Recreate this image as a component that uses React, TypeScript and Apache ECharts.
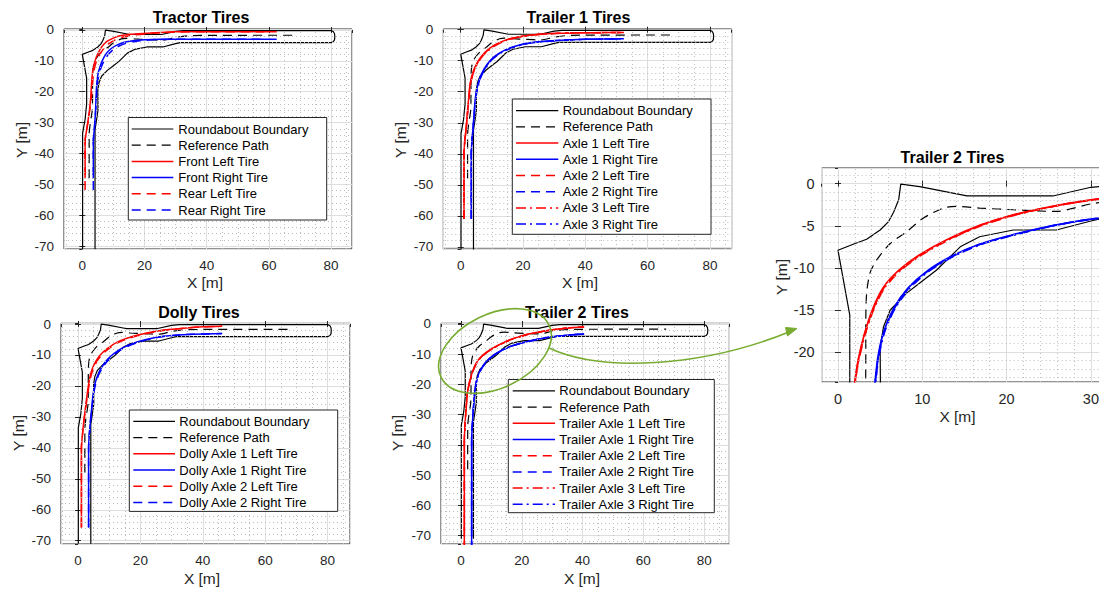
import { useEffect, useRef } from 'react';
import * as echarts from 'echarts';

type Pt = [number, number];

// ---------------- data (metres) ----------------
const roundaboutBoundary: Pt[] = [
  [0.1, -71], [0.1, -33.5], [0.9, -29], [1.4, -24], [1.4, -15.6], [0.0, -7.9], [1.8, -7.2], [3.4, -6.6],
  [5.0, -5.5], [6.0, -4.5], [6.6, -3.4], [7.2, -1.9], [7.45, -0.05], [9.7, -0.35], [15.3, -1.46], [25.5, -1.46],
  [30, -0.43], [32.5, -0.2], [80.0, -0.2], [80.7, -0.5], [81.1, -1.2], [81.2, -2.1], [81.1, -3.2], [80.7, -3.8],
  [80.0, -4.1], [31.5, -4.1], [30, -4.43], [25.9, -5.5], [20.8, -5.5], [16.8, -6.3], [14.5, -7.5], [11.7, -10.25],
  [9.7, -11.8], [8.15, -13], [6.2, -15], [5.4, -17], [5.0, -19.4], [5.05, -26], [4.1, -32.4], [4.1, -71],
];

const referencePath: Pt[] = [
  [2.2, -48], [2.2, -34], [2.6, -30], [3.2, -26], [3.3, -20], [3.3, -16.2], [3.4, -13], [3.8, -10.6], [4.6, -9.05],
  [6.2, -7.1], [8.15, -5.7], [10.1, -4.1], [12.5, -2.9], [14.1, -2.7], [16.8, -2.9], [20.8, -3.1], [25.9, -3.3],
  [30, -2.4], [34, -1.9], [40, -1.75], [67.5, -1.7],
];

const tractorFrontLeft: Pt[] = [
  [0.9, -48], [0.9, -36], [1.3, -33], [1.9, -29], [2.3, -26], [2.7, -22], [3.0, -17], [3.4, -13], [4.1, -10],
  [5.1, -7.5], [6.3, -5.4], [7.8, -3.8], [9.8, -2.7], [12.1, -1.9], [15.5, -1.4], [19.6, -1.1], [25, -0.8],
  [30.4, -0.6], [40, -0.55], [62.5, -0.55],
];
const tractorFrontRight: Pt[] = [
  [3.55, -48], [3.55, -36], [3.8, -33], [4.1, -29], [4.3, -25], [4.6, -18.3], [5.0, -14.5], [5.7, -11.9],
  [6.6, -9.6], [7.8, -7.5], [9.3, -6.0], [11.1, -4.9], [13.5, -4.0], [16.4, -3.5], [20, -3.2], [25, -3.0], [62.5, -3.0],
];
const tractorRearLeft: Pt[] = [
  [0.9, -51.8], [0.9, -36], [1.3, -33], [2.0, -29], [2.4, -26], [2.9, -22], [3.3, -17], [3.8, -13], [4.6, -10],
  [5.7, -7.8], [7.0, -5.9], [8.6, -4.4], [10.6, -3.2], [13, -2.3], [16.3, -1.7], [20.4, -1.25], [25.5, -0.9],
  [31, -0.65], [40, -0.55], [58.5, -0.55],
];
const tractorRearRight: Pt[] = [
  [3.55, -51.8], [3.55, -36], [3.8, -33], [4.1, -29], [4.4, -25], [4.8, -18.3], [5.3, -14.6], [6.1, -12.0],
  [7.1, -9.8], [8.4, -7.9], [9.9, -6.4], [11.8, -5.2], [14.2, -4.3], [17.1, -3.7], [20.7, -3.3], [25.5, -3.05], [58.5, -3.0],
];

const trailer1Axle1Left: Pt[] = [
  [1.05, -61], [1.05, -40], [1.3, -36], [1.8, -31], [2.2, -26], [2.6, -21.5], [3.0, -17.5], [3.9, -13.7], [5.1, -11],
  [6.5, -8.8], [8.3, -6.8], [10.8, -5], [13.7, -3.6], [17.5, -2.5], [22.2, -1.75], [27, -1.35], [33, -1.1], [42, -0.95], [52.4, -0.9],
];
const trailer1Axle1Right: Pt[] = [
  [3.4, -61], [3.4, -40], [3.6, -36], [4.0, -31], [4.3, -27], [4.6, -22.9], [5.2, -19], [6.2, -15.4], [7.6, -12.5],
  [9.4, -10], [11.4, -8.2], [13.7, -6.8], [16.7, -5.6], [20.1, -4.6], [25, -3.9], [30.8, -3.45], [40, -3.1], [52.4, -2.95],
];
const trailer1Axle2Left: Pt[] = [
  [1.05, -61], [1.05, -40], [1.3, -36], [1.83, -31], [2.25, -26], [2.66, -21.5], [3.08, -17.55], [4.0, -13.75], [5.2, -11.05],
  [6.62, -8.85], [8.45, -6.87], [10.95, -5.07], [13.85, -3.65], [17.65, -2.55], [22.35, -1.78], [27.15, -1.37], [33.15, -1.11], [42, -0.96], [52.4, -0.9],
];
const trailer1Axle2Right: Pt[] = [
  [3.4, -61], [3.4, -40], [3.6, -36], [4.03, -31], [4.35, -27], [4.67, -22.95], [5.28, -19.05], [6.3, -15.45], [7.72, -12.55],
  [9.52, -10.05], [11.55, -8.25], [13.85, -6.85], [16.85, -5.65], [20.25, -4.65], [25.15, -3.93], [30.9, -3.47], [40, -3.1], [52.4, -2.95],
];
const trailer1Axle3Left: Pt[] = [
  [1.05, -61], [1.05, -40], [1.3, -36], [1.86, -31], [2.3, -26], [2.72, -21.5], [3.16, -17.6], [4.1, -13.8], [5.3, -11.1],
  [6.74, -8.9], [8.6, -6.94], [11.1, -5.14], [14, -3.7], [17.8, -2.6], [22.5, -1.81], [27.3, -1.39], [33.3, -1.12], [42, -0.97], [52.4, -0.9],
];
const trailer1Axle3Right: Pt[] = [
  [3.4, -61], [3.4, -40], [3.6, -36], [4.06, -31], [4.4, -27], [4.74, -23.0], [5.36, -19.1], [6.4, -15.5], [7.84, -12.6],
  [9.64, -10.1], [11.7, -8.3], [14, -6.9], [17, -5.7], [20.4, -4.7], [25.3, -3.96], [31, -3.48], [40, -3.11], [52.4, -2.95],
];

const dollyAxle1Left: Pt[] = [
  [1.1, -65.7], [1.1, -40], [1.4, -36], [1.9, -31], [2.4, -27], [2.9, -23], [3.4, -19.5], [4.1, -16], [5.1, -13.2],
  [6.3, -11.1], [7.8, -9.3], [9.6, -7.8], [12.3, -6], [15.7, -4.6], [19.6, -3.5], [24.2, -2.5], [29, -1.8], [34.8, -1.25], [40, -0.9], [46.2, -0.7],
];
const dollyAxle1Right: Pt[] = [
  [3.4, -65.7], [3.4, -40], [3.6, -36], [4.0, -31], [4.4, -27], [4.8, -23], [5.4, -19.5], [6.4, -16.3], [7.7, -13.8],
  [9.4, -11.5], [11.4, -9.6], [14.3, -7.7], [17.8, -6.2], [21.8, -5.0], [26.3, -4.1], [31, -3.6], [36.9, -3.3], [46.2, -3.1],
];
const dollyAxle2Left: Pt[] = [
  [1.1, -65.7], [1.1, -40], [1.4, -36], [1.95, -31], [2.5, -27], [3.05, -23], [3.6, -19.6], [4.35, -16.1], [5.4, -13.3],
  [6.65, -11.2], [8.2, -9.4], [10, -7.9], [12.7, -6.1], [16.1, -4.7], [20, -3.6], [24.6, -2.55], [29.4, -1.83], [35, -1.27], [40, -0.92], [46.2, -0.7],
];
const dollyAxle2Right: Pt[] = [
  [3.4, -65.7], [3.4, -40], [3.6, -36], [4.05, -31], [4.5, -27], [4.95, -23], [5.6, -19.6], [6.65, -16.4], [8, -13.9],
  [9.75, -11.6], [11.8, -9.7], [14.7, -7.8], [18.2, -6.3], [22.2, -5.05], [26.7, -4.15], [31.3, -3.62], [37, -3.3], [46.2, -3.1],
];

const trailer2Axle1Left: Pt[] = [
  [1.1, -75], [1.1, -38], [1.3, -34], [1.55, -29.5], [1.8, -26], [2.0, -23.5], [2.4, -20.9], [3.15, -17.8], [4.15, -14.8],
  [5.4, -12.3], [7.2, -10.3], [9.6, -8.5], [12.9, -6.65], [16.8, -4.95], [20.8, -3.7], [25.9, -2.6], [30, -1.93], [35, -1.35], [40.5, -1.0],
];
const trailer2Axle1Right: Pt[] = [
  [3.5, -75], [3.5, -38], [3.7, -34], [3.95, -29.5], [4.2, -26], [4.4, -23.5], [4.75, -20.5], [5.45, -17.5], [6.6, -14.8],
  [8.3, -12.4], [10.6, -10.35], [13.4, -8.65], [16.6, -7.25], [20.6, -6.1], [25.6, -4.95], [30, -4.2], [35, -3.7], [40.5, -3.3],
];
const trailer2Axle2Left: Pt[] = [
  [1.1, -75], [1.1, -38], [1.3, -34], [1.57, -29.5], [1.83, -26], [2.03, -23.5], [2.44, -20.9], [3.2, -17.8], [4.21, -14.82],
  [5.47, -12.33], [7.28, -10.33], [9.68, -8.53], [12.98, -6.68], [16.88, -4.97], [20.88, -3.72], [25.95, -2.61], [30.05, -1.94], [35, -1.35], [40.5, -1.0],
];
const trailer2Axle2Right: Pt[] = [
  [3.5, -75], [3.5, -38], [3.7, -34], [3.97, -29.5], [4.23, -26], [4.44, -23.5], [4.8, -20.5], [5.51, -17.5], [6.67, -14.83],
  [8.38, -12.43], [10.68, -10.38], [13.48, -8.68], [16.68, -7.27], [20.68, -6.12], [25.65, -4.96], [30.05, -4.21], [35, -3.7], [40.5, -3.3],
];
const trailer2Axle3Left: Pt[] = [
  [1.1, -75], [1.1, -38], [1.3, -34], [1.59, -29.5], [1.86, -26], [2.06, -23.5], [2.48, -20.9], [3.25, -17.8], [4.27, -14.84],
  [5.54, -12.36], [7.36, -10.36], [9.76, -8.56], [13.06, -6.71], [16.96, -4.99], [20.96, -3.74], [26, -2.62], [30.1, -1.95], [35, -1.36], [40.5, -1.0],
];
const trailer2Axle3Right: Pt[] = [
  [3.5, -75], [3.5, -38], [3.7, -34], [3.99, -29.5], [4.26, -26], [4.48, -23.5], [4.85, -20.5], [5.57, -17.5], [6.74, -14.86],
  [8.46, -12.46], [10.76, -10.41], [13.56, -8.71], [16.76, -7.29], [20.76, -6.14], [25.7, -4.97], [30.1, -4.22], [35, -3.71], [40.5, -3.3],
];

const tractorLegend = ['Roundabout Boundary', 'Reference Path', 'Front Left Tire', 'Front Right Tire', 'Rear Left Tire', 'Rear Right Tire'];
const trailer1Legend = ['Roundabout Boundary', 'Reference Path', 'Axle 1 Left Tire', 'Axle 1 Right Tire', 'Axle 2 Left Tire', 'Axle 2 Right Tire', 'Axle 3 Left Tire', 'Axle 3 Right Tire'];
const dollyLegend = ['Roundabout Boundary', 'Reference Path', 'Dolly Axle 1 Left Tire', 'Dolly Axle 1 Right Tire', 'Dolly Axle 2 Left Tire', 'Dolly Axle 2 Right Tire'];
const trailer2Legend = ['Roundabout Boundary', 'Reference Path', 'Trailer Axle 1 Left Tire', 'Trailer Axle 1 Right Tire', 'Trailer Axle 2 Left Tire', 'Trailer Axle 2 Right Tire', 'Trailer Axle 3 Left Tire', 'Trailer Axle 3 Right Tire'];

const panelTitles = ['Tractor Tires', 'Trailer 1 Tires', 'Dolly Tires', 'Trailer 2 Tires', 'Trailer 2 Tires'];
const xAxisTitle = 'X [m]';
const yAxisTitle = 'Y [m]';

// ---------------- styling ----------------
const FONT = "'Liberation Sans', Arial, Helvetica, sans-serif";
const RED = '#ff0000';
const BLUE = '#0000ff';
const BLACK = '#000000';
const AXC = '#262626';
const DASH = [9, 6];
const DASHDOT = [10, 4, 2, 4];
const GREEN = '#77AC30';

type LineDef = { name: string; data: Pt[]; color: string; dash: number[] | null; width: number; smooth: number };

function buildLines(names: string[], tires: Pt[][], lw: number): LineDef[] {
  const out: LineDef[] = [
    { name: names[0], data: roundaboutBoundary, color: BLACK, dash: null, width: 1.2, smooth: 0 },
    { name: names[1], data: referencePath, color: BLACK, dash: DASH, width: 1.2, smooth: 0.25 },
  ];
  const dashes = [null, null, DASH, DASH, DASHDOT, DASHDOT];
  tires.forEach((d, k) => {
    out.push({ name: names[k + 2], data: d, color: k % 2 === 0 ? RED : BLUE, dash: dashes[k], width: lw, smooth: 0.25 });
  });
  return out;
}

type Legend = { box: [number, number, number, number]; sample: [number, number]; textX: number; row0: number; step: number };
type Panel = {
  title: string; lines: LineDef[]; grid: [number, number, number, number];
  xr: [number, number]; yr: [number, number]; xSplit: number; ySplit: number;
  xMajor: number; yMajor: number; xMinor: number; yMinor: number;
  titleAt: [number, number]; xLabelAt: [number, number]; yLabelAt: [number, number];
  legend: Legend | null; xMargin: number; yMargin: number; tickFont: number;
};

const trailer2Tires = [trailer2Axle1Left, trailer2Axle1Right, trailer2Axle2Left, trailer2Axle2Right, trailer2Axle3Left, trailer2Axle3Right];

const panels: Panel[] = [
  {
    title: panelTitles[0], lines: buildLines(tractorLegend, [tractorFrontLeft, tractorFrontRight, tractorRearLeft, tractorRearRight], 1.5),
    grid: [64, 29, 288, 220], xr: [-5.88, 86.72], yr: [-70.95, 0.32], xSplit: 5, ySplit: 7, xMajor: 20, yMajor: 10, xMinor: 5, yMinor: 2,
    titleAt: [201, 17], xLabelAt: [205, 282], yLabelAt: [21, 140],
    legend: { box: [128.3, 117.5, 198.4, 102.5], sample: [131.7, 173.3], textX: 178.3, row0: 129, step: 16.2 },
    xMargin: 9, yMargin: 10, tickFont: 13.5,
  },
  {
    title: panelTitles[1], lines: buildLines(trailer1Legend, [trailer1Axle1Left, trailer1Axle1Right, trailer1Axle2Left, trailer1Axle2Right, trailer1Axle3Left, trailer1Axle3Right], 1.5),
    grid: [443.3, 29, 288.4, 220], xr: [-5.59, 87.0], yr: [-70.7, 0.23], xSplit: 5, ySplit: 7, xMajor: 20, yMajor: 10, xMinor: 5, yMinor: 2,
    titleAt: [578.5, 17], xLabelAt: [580, 282], yLabelAt: [400, 140],
    legend: { box: [512.3, 99, 198.7, 135.3], sample: [516, 558.3], textX: 562.7, row0: 110.7, step: 16.2 },
    xMargin: 9, yMargin: 10, tickFont: 13.5,
  },
  {
    title: panelTitles[2], lines: buildLines(dollyLegend, [dollyAxle1Left, dollyAxle1Right, dollyAxle2Left, dollyAxle2Right], 1.5),
    grid: [61, 323.3, 289, 220.7], xr: [-5.45, 87.2], yr: [-71.06, 0.23], xSplit: 5, ySplit: 7, xMajor: 20, yMajor: 10, xMinor: 5, yMinor: 2,
    titleAt: [199, 312], xLabelAt: [202, 578], yLabelAt: [18, 433],
    legend: { box: [129.3, 410, 208.4, 101.4], sample: [133.3, 175], textX: 179.3, row0: 421.4, step: 16.2 },
    xMargin: 9, yMargin: 10, tickFont: 13.5,
  },
  {
    title: panelTitles[3], lines: buildLines(trailer2Legend, trailer2Tires, 1.5),
    grid: [441, 323.3, 288.3, 220.7], xr: [-6.58, 88.27], yr: [-72.75, 0.23], xSplit: 5, ySplit: 7, xMajor: 20, yMajor: 10, xMinor: 5, yMinor: 2,
    titleAt: [577, 312], xLabelAt: [582, 578], yLabelAt: [397, 433],
    legend: { box: [508.3, 379.5, 206, 133.2], sample: [512.7, 555], textX: 559.3, row0: 390.9, step: 16.2 },
    xMargin: 9, yMargin: 10, tickFont: 13.5,
  },
  {
    title: panelTitles[4], lines: buildLines(trailer2Legend, trailer2Tires, 1.7),
    grid: [821.7, 168, 313.3, 214], xr: [-1.93, 35.23], yr: [-23.55, 1.86], xSplit: 4, ySplit: 5, xMajor: 10, yMajor: 5, xMinor: 2, yMinor: 1,
    titleAt: [952.5, 157], xLabelAt: [957.5, 416], yLabelAt: [781, 277],
    legend: null,
    xMargin: 9, yMargin: 7, tickFont: 14.5,
  },
];

function minorValues(min: number, max: number, step: number, major: number): number[] {
  const out: number[] = [];
  const start = Math.ceil(min / step);
  const end = Math.floor(max / step);
  for (let k = start; k <= end; k++) {
    const v = Math.round(k * step * 1000) / 1000;
    const r = v / major;
    if (Math.abs(r - Math.round(r)) > 1e-6) out.push(v);
  }
  return out;
}

function buildOption() {
  const grids: any[] = [];
  const xAxes: any[] = [];
  const yAxes: any[] = [];
  const series: any[] = [];
  const graphics: any[] = [];

  panels.forEach((p, i) => {
    const [gl, gt, gw, gh] = p.grid;
    grids.push({
      left: gl, top: gt, width: gw, height: gh, show: true, borderColor: AXC, borderWidth: 1,
      backgroundColor: '#ffffff', containLabel: false, outerBoundsMode: 'none',
    });
    const tick = { show: true, inside: true, length: 3, lineStyle: { color: AXC, width: 1 } };
    const lbl = { fontSize: p.tickFont, color: AXC, fontFamily: FONT, showMinLabel: false, showMaxLabel: false };
    xAxes.push({
      type: 'value', gridIndex: i, position: 'bottom', min: p.xr[0], max: p.xr[1], splitNumber: p.xSplit,
      axisLine: { show: false }, axisTick: tick, axisLabel: { ...lbl, margin: p.xMargin },
      splitLine: { show: true, lineStyle: { color: '#dedede', width: 1 } },
    });
    xAxes.push({
      type: 'value', gridIndex: i, position: 'top', min: p.xr[0], max: p.xr[1], splitNumber: p.xSplit,
      axisLine: { show: false }, axisTick: tick, axisLabel: { show: false }, splitLine: { show: false },
    });
    yAxes.push({
      type: 'value', gridIndex: i, position: 'left', min: p.yr[0], max: p.yr[1], splitNumber: p.ySplit,
      axisLine: { show: false }, axisTick: tick, axisLabel: { ...lbl, margin: p.yMargin },
      splitLine: { show: true, lineStyle: { color: '#dedede', width: 1 } },
    });
    yAxes.push({
      type: 'value', gridIndex: i, position: 'right', min: p.yr[0], max: p.yr[1], splitNumber: p.ySplit,
      axisLine: { show: false }, axisTick: tick, axisLabel: { show: false }, splitLine: { show: false },
    });

    const minors = [
      ...minorValues(p.xr[0], p.xr[1], p.xMinor, p.xMajor).map((v) => ({ xAxis: v })),
      ...minorValues(p.yr[0], p.yr[1], p.yMinor, p.yMajor).map((v) => ({ yAxis: v })),
    ];
    series.push({
      type: 'line', xAxisIndex: 2 * i, yAxisIndex: 2 * i, data: [[p.xr[0], p.yr[0]]], symbol: 'none', showSymbol: false,
      lineStyle: { opacity: 0, width: 0 }, silent: true, z: 1,
      markLine: {
        silent: true, symbol: ['none', 'none'], label: { show: false }, animation: false,
        lineStyle: { type: [1, 3], color: '#bcbcbc', width: 1 }, emphasis: { disabled: true },
        data: minors,
      },
    });

    p.lines.forEach((l) => {
      series.push({
        type: 'line', name: l.name, xAxisIndex: 2 * i, yAxisIndex: 2 * i, data: l.data, symbol: 'none', showSymbol: false,
        smooth: l.smooth, clip: true, silent: true, z: 3,
        lineStyle: { color: l.color, width: l.width, type: l.dash ? l.dash : 'solid' },
        emphasis: { disabled: true },
      });
    });

    graphics.push({
      type: 'text', z: 100, x: p.titleAt[0], y: p.titleAt[1],
      style: { text: p.title, fontSize: 16, fontWeight: 'bold', fontFamily: FONT, fill: '#000', align: 'center', verticalAlign: 'middle' },
    });
    graphics.push({
      type: 'text', z: 100, x: p.xLabelAt[0], y: p.xLabelAt[1],
      style: { text: xAxisTitle, fontSize: 15.5, fontFamily: FONT, fill: AXC, align: 'center', verticalAlign: 'middle' },
    });
    graphics.push({
      type: 'text', z: 100, x: p.yLabelAt[0], y: p.yLabelAt[1], rotation: Math.PI / 2,
      style: { text: yAxisTitle, fontSize: 15.5, fontFamily: FONT, fill: AXC, align: 'center', verticalAlign: 'middle' },
    });

    if (p.legend) {
      const lg = p.legend;
      graphics.push({
        type: 'rect', z: 100, shape: { x: lg.box[0], y: lg.box[1], width: lg.box[2], height: lg.box[3] },
        style: { fill: '#ffffff', stroke: AXC, lineWidth: 1 },
      });
      p.lines.forEach((l, k) => {
        const yy = lg.row0 + k * lg.step;
        graphics.push({
          type: 'line', z: 101, shape: { x1: lg.sample[0], y1: yy, x2: lg.sample[1], y2: yy },
          style: { stroke: l.color, lineWidth: l.width, lineDash: l.dash ? l.dash : null },
        });
        graphics.push({
          type: 'text', z: 101, x: lg.textX, y: yy,
          style: { text: l.name, fontSize: 13, fontFamily: FONT, fill: '#000', align: 'left', verticalAlign: 'middle' },
        });
      });
    }
  });

  // zoom annotation (ellipse + curved arrow)
  graphics.push({
    type: 'ellipse', z: 110, x: 495, y: 351, rotation: 0.45,
    shape: { cx: 0, cy: 0, rx: 60, ry: 37 },
    style: { fill: 'none', stroke: GREEN, lineWidth: 1.6 },
  });
  graphics.push({
    type: 'bezierCurve', z: 110,
    shape: { x1: 549, y1: 348, cpx1: 600, cpy1: 372, cpx2: 700, cpy2: 368, x2: 789, y2: 332 },
    style: { fill: 'none', stroke: GREEN, lineWidth: 1.6 },
  });
  graphics.push({
    type: 'polygon', z: 110,
    shape: { points: [[797, 328.5], [787.5, 336], [785.5, 327.5]] },
    style: { fill: GREEN, stroke: GREEN, lineWidth: 1 },
  });

  return {
    animation: false,
    backgroundColor: '#ffffff',
    grid: grids,
    xAxis: xAxes,
    yAxis: yAxes,
    series,
    graphic: { elements: graphics },
  };
}

export default function App() {
  const ref = useRef<HTMLDivElement>(null);
  useEffect(() => {
    if (!ref.current) return;
    const chart = echarts.init(ref.current, null, { renderer: 'svg' });
    chart.setOption(buildOption() as any);
    return () => chart.dispose();
  }, []);
  return (
    <div
      ref={ref}
      style={{ position: 'fixed', left: 0, top: 0, width: 1099, height: 589, background: '#ffffff' }}
    />
  );
}
